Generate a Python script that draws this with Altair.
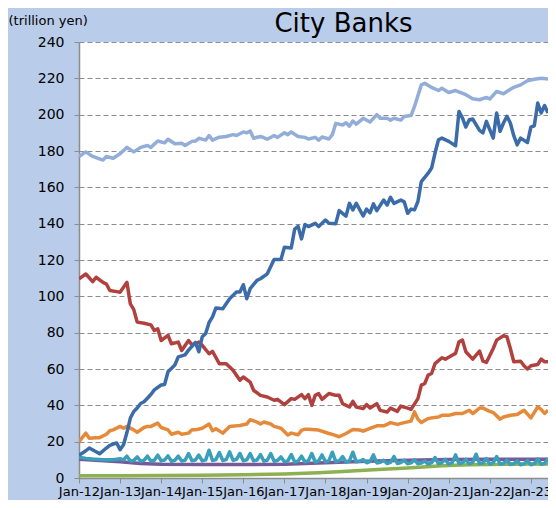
import altair as alt
import pandas as pd

SERIES = ["Green", "Purple", "Teal", "Orange", "Red", "Dark blue", "Light blue"]
COLORS = ["#8db051", "#775a9a", "#3a9fba", "#e58a3a", "#b0413e", "#3b6ca9", "#93add9"]

# months counted from Jan-2012
lb_m = [0, 2, 4, 7, 8, 10, 12, 14, 16, 18, 20, 21, 23, 25, 26, 28, 30, 31, 33, 34, 35, 37, 38, 39,
        41, 43, 45, 46, 48, 49, 50, 51, 53, 55, 57, 58, 60, 61, 62, 64, 66, 67, 69, 70, 71, 73, 74,
        75, 77, 78, 79, 80, 81, 83, 85, 87, 88, 90, 91, 92, 94, 95, 97, 98, 100, 101, 103, 105, 106,
        108, 110, 113, 115, 117, 119, 120, 122, 124, 126, 127, 129, 131, 133, 135, 137]
lb_v = [177, 179.5, 177, 175, 177, 176, 178.5, 182, 179.5, 182, 183, 182, 185.5, 184.5, 186.5, 184,
        184.3, 183, 185.3, 185.5, 187, 186, 188.5, 186, 187.6, 188, 189, 188.5, 190.5, 190, 191, 187,
        188, 186.5, 188.5, 187.5, 190, 189, 190.5, 188, 187.5, 186.6, 187.5, 186, 187.7, 186.6, 189,
        195.2, 194.3, 195.5, 193.7, 196.5, 194.8, 198, 196, 200, 198, 198, 197, 198, 197, 199, 199.5,
        204.5, 216.4, 217.3, 215, 213.3, 214.5, 212.2, 213.3, 211, 208.8, 208.2, 209.5, 208.6, 212.8,
        211.5, 214, 215, 216.4, 218.7, 219.5, 220, 219.6]

db_m = [0, 2, 3, 5, 6, 8, 9, 11, 12, 13, 14, 15, 16, 17, 18, 19, 21, 22, 24, 25, 26, 28, 29, 31, 32,
        34, 35, 36, 37, 38, 39, 40, 42, 44, 46, 47, 48, 49, 50, 52, 53, 55, 57, 59, 60, 62, 63, 64, 65,
        66, 67, 69, 70, 72, 73, 75, 76, 78, 79, 80, 81, 83, 84, 85, 86, 87, 89, 90, 91, 92, 94, 95, 96,
        97, 98, 99, 100, 102, 103, 104, 105, 106, 108, 110, 111, 112, 113, 114, 115, 117, 118, 119,
        120, 121, 122, 123, 124, 125, 126, 127, 128, 129, 131, 132, 133, 134, 135, 136, 137]
db_v = [12.5, 15, 16.5, 14.4, 13.3, 16.5, 18, 19.3, 15.6, 18.3, 25, 33, 36.6, 38.5, 41, 42, 46, 48.5,
        51.2, 51.5, 58.5, 62.2, 66.7, 67.8, 70.4, 74.6, 69.5, 77.7, 79.5, 85.6, 88.7, 93.6, 93.2, 98.7,
        102.4, 102.4, 106.4, 98.7, 104.2, 108.8, 109.7, 112.4, 120.3, 120.3, 127, 126.6, 137, 138.5,
        131.6, 139.5, 138.4, 140.2, 138.4, 142, 140.2, 140, 147.2, 144.2, 151.2, 147.6, 151.2, 144.2,
        148, 146, 150.9, 147.2, 153, 150.3, 154.5, 151.2, 153, 152, 145.7, 148, 147.6, 152.2, 163.2,
        167.8, 170.6, 178.9, 186.2, 187.1, 185.3, 182.9, 201.8, 198.2, 193.2, 197.2, 197.6, 191.4, 190,
        196.3, 191.7, 187.1, 200.9, 190.8, 195.4, 199.1, 195.4, 188.4, 183.4, 187.1, 184.7, 193.2,
        193.9, 206.4, 200.9, 205, 200.9]

rd_m = [0, 2, 4, 5, 7, 8, 9, 11, 12, 13, 14, 15, 16, 17, 19, 21, 22, 23, 24, 26, 27, 29, 30, 32, 33,
        35, 36, 38, 39, 41, 43, 45, 47, 48, 50, 51, 53, 55, 57, 58, 60, 62, 63, 65, 66, 67, 68, 69, 70,
        71, 73, 75, 76, 77, 79, 80, 81, 83, 84, 85, 87, 88, 90, 91, 93, 94, 96, 97, 99, 100, 101, 102,
        103, 104, 106, 107, 109, 110, 111, 112, 113, 115, 117, 118, 119, 121, 122, 124, 125, 126, 127,
        129, 130, 131, 132, 134, 135, 136, 137]
rd_v = [109.6, 112.3, 108.1, 110.5, 107.7, 106.8, 103.2, 102.6, 102.3, 105, 107.7, 95.8, 92.7, 85.8,
        85.2, 84.3, 81.2, 82.1, 75.7, 78.5, 73.9, 74.8, 70.2, 75.7, 73.3, 74.8, 73, 68.4, 69.7, 62.9,
        62.9, 59.3, 53.8, 55.6, 52.8, 48.3, 45.5, 44.6, 42.8, 43.3, 40.4, 43.7, 43.3, 45.9, 43.7, 45.9,
        40, 45.5, 46.5, 43.3, 46.5, 45.5, 45.5, 40.9, 39.1, 42.2, 39.1, 38.2, 40.4, 38.5, 40.9, 37.2,
        36.3, 38.5, 36.7, 39.6, 38.5, 37.8, 43.7, 51.1, 52, 56.6, 57.5, 63, 66.2, 65.4, 67.6, 68.6, 75,
        75.9, 69.5, 65.4, 69.9, 64.3, 63.6, 71.3, 75.9, 78.3, 77.8, 71.3, 64, 64.3, 61.8, 60, 61.8,
        62.5, 65.4, 64, 64]

or_m = [0, 2, 3, 5, 6, 8, 9, 10, 12, 13, 14, 16, 17, 19, 20, 21, 23, 24, 26, 27, 29, 30, 32, 33, 34,
        36, 38, 39, 40, 42, 43, 44, 46, 47, 49, 50, 52, 53, 54, 56, 57, 59, 61, 62, 64, 65, 66, 67, 70,
        73, 74, 76, 78, 80, 82, 83, 85, 87, 89, 90, 91, 93, 95, 97, 98, 99, 100, 102, 103, 105, 106,
        108, 110, 112, 114, 115, 117, 118, 120, 121, 123, 124, 126, 128, 130, 132, 134, 135, 136, 137]
or_v = [20, 24.7, 21.9, 22.2, 22.2, 24.1, 26, 26.5, 28.4, 27.4, 28.4, 26.5, 25.2, 27.8, 28.4, 28.4,
        30.2, 27.8, 26.5, 24.1, 25.2, 24.1, 24.7, 26.5, 26.5, 27.4, 29.7, 26, 27.1, 24.7, 26.5, 28.4,
        28.7, 28.9, 29.7, 32.1, 30.8, 29.7, 30.8, 29.7, 28.4, 27.4, 23.7, 24.7, 23.8, 26.2, 26.9, 26.8,
        26.4, 24.5, 24, 22.7, 24.5, 26.7, 26.4, 25.8, 27.3, 28.7, 28.7, 29.5, 30.5, 29.5, 30.5, 31.3,
        36.4, 32.4, 30.5, 32.7, 33.1, 33.6, 34.5, 34.5, 35.5, 35.5, 37.3, 35.5, 38.5, 38.5, 36.7, 36,
        32.4, 33.6, 34.5, 34.9, 37.3, 33.1, 39.1, 37.8, 35.5, 37.3]

# monthly, Jan-12 onwards
teal_v = [11.5, 11.1, 10.8, 10.6, 10.4, 10.3, 10.2, 10.1, 10.0, 10.0, 10.1, 10.3, 10.6, 10.0,
          12.0, 9.3, 9.6, 11.6, 9.2, 9.7, 12.0, 9.3, 9.8, 12.6, 9.4, 9.9, 12.2, 9.2, 9.7, 12.0,
          9.3, 9.8, 13.5, 9.5, 9.9, 12.6, 9.4, 10.0, 15.3, 9.6, 10.2, 14.0, 9.6, 10.1, 14.4, 9.7,
          10.3, 13.5, 9.5, 10.0, 13.5, 9.4, 9.9, 12.9, 9.3, 9.8, 13.5, 9.2, 9.6, 11.6, 8.9, 9.4,
          12.9, 8.8, 9.3, 12.0, 8.9, 9.5, 13.5, 8.8, 9.4, 12.7, 8.9, 9.6, 14.2, 9.0, 9.5, 11.8,
          8.8, 9.4, 14.2, 8.9, 9.2, 10.2, 8.4, 9.0, 12.7, 8.3, 8.6, 9.8, 8.0, 8.6, 11.8, 8.0, 8.5,
          9.8, 7.8, 8.3, 10.0, 7.8, 8.2, 9.3, 7.6, 8.4, 11.3, 7.8, 8.5, 10.2, 7.6, 8.4, 12.7, 7.9,
          8.4, 10.2, 7.7, 8.6, 13.1, 7.9, 8.3, 10.7, 7.6, 8.5, 11.8, 7.6, 8.1, 9.8, 7.4, 7.9, 9.4,
          7.3, 7.8, 9.6, 7.3, 7.9, 10.5, 7.5, 8.0, 10.9]

pu_m = [0, 6, 12, 18, 24, 36, 48, 60, 66, 72, 84, 96, 108, 120, 137]
pu_v = [10.3, 9.6, 9.0, 8.0, 7.6, 7.4, 7.4, 7.6, 8.0, 8.4, 9.2, 9.8, 10.2, 10.3, 10.3]

gr_m = [0, 12, 24, 36, 48, 60, 70, 77, 86, 96, 106, 114, 125, 137]
gr_v = [1.3, 1.3, 1.4, 1.5, 1.8, 2.2, 2.9, 3.6, 4.5, 5.5, 6.8, 7.3, 7.5, 7.7]

YEAR_TICKS = [0, 12, 24, 36, 48, 60, 72, 84, 96, 108, 120, 132]
Y_TICKS = [0, 20, 40, 60, 80, 100, 120, 140, 160, 180, 200, 220, 240]

rows = []
for name, ms, vs in [
    ("Green", gr_m, gr_v),
    ("Purple", pu_m, pu_v),
    ("Teal", list(range(len(teal_v))), teal_v),
    ("Orange", or_m, or_v),
    ("Red", rd_m, rd_v),
    ("Dark blue", db_m, db_v),
    ("Light blue", lb_m, lb_v),
]:
    for m, v in zip(ms, vs):
        rows.append({"series": name, "month": m, "value": v})
df = pd.DataFrame(rows)

FONT = "DejaVu Sans"
GRAY = "#8c8c8c"

chart = alt.Chart(df).mark_line(strokeWidth=3.5, clip=True, strokeJoin="round").encode(
    x=alt.X(
        "month:Q",
        scale=alt.Scale(domain=[0, 137], nice=False, zero=False),
        axis=alt.Axis(
            values=YEAR_TICKS,
            labelExpr="'Jan-' + (12 + datum.value / 12)",
            grid=False, title=None,
            domainColor=GRAY, domainWidth=1.5, tickColor=GRAY, tickSize=5, tickWidth=1,
            labelFont=FONT, labelFontSize=13, labelColor="black", labelPadding=2,
            labelOverlap=False, labelFlush=False,
        ),
    ),
    y=alt.Y(
        "value:Q",
        scale=alt.Scale(domain=[0, 240], nice=False),
        axis=alt.Axis(
            values=Y_TICKS,
            grid=True, gridDash=[5, 3], gridColor=GRAY, gridWidth=1,
            domainColor=GRAY, domainWidth=1.5, tickColor=GRAY, tickSize=5, tickWidth=1,
            labelFont=FONT, labelFontSize=14, labelColor="black", labelPadding=10,
            title="(trillion yen)", titleAngle=0, titleAlign="left", titleBaseline="middle",
            titleX=-71, titleY=-22, titleFont=FONT, titleFontSize=13,
            titleFontWeight="normal", titleColor="black",
        ),
    ),
    color=alt.Color("series:N", scale=alt.Scale(domain=SERIES, range=COLORS), legend=None),
).properties(
    width=469,
    height=436,
    title=alt.Title("City Banks", font=FONT, fontSize=26, fontWeight="normal", color="black",
                    frame="group", anchor="middle", dx=30, dy=27),
    autosize=alt.AutoSizeParams(type="none"),
    padding={"left": 71, "top": 34, "right": 0, "bottom": 22},
    background="#b9cce9",
).configure_view(fill="white", stroke=None)

chart.save("out.html", embed_options={"renderer": "svg", "actions": False})
